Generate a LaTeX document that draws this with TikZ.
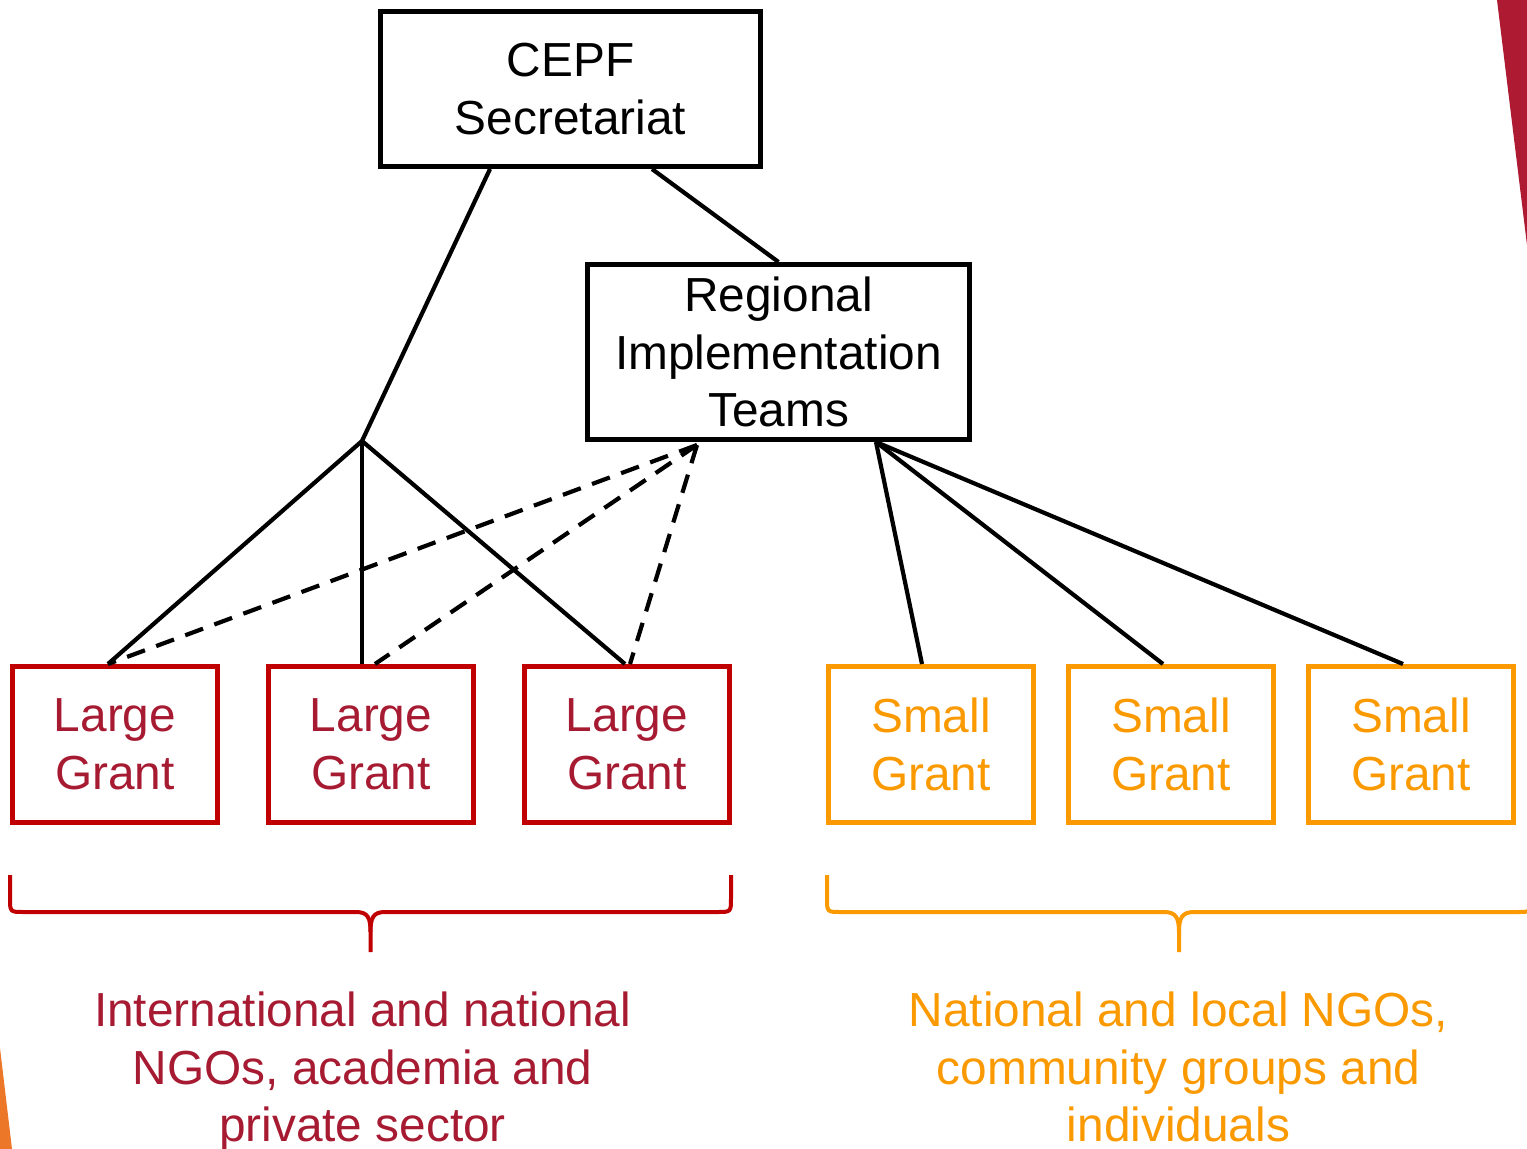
\documentclass[tikz,border=0pt]{standalone}
\usepackage{fontspec}
\setmainfont{Liberation Sans}
\usetikzlibrary{calc}
\definecolor{boxred}{RGB}{192,0,0}
\definecolor{txtred}{RGB}{167,27,50}
\definecolor{orng}{RGB}{250,153,0}
\definecolor{decored}{RGB}{173,26,50}
\definecolor{decoorange}{RGB}{236,119,40}
\begin{document}
\begin{tikzpicture}[x=1pt,y=-1pt,
  every node/.style={font=\fontsize{47.8}{57.5}\selectfont, align=center, inner sep=0pt},
  blackbox/.style={draw=black, line width=5pt},
  largebox/.style={draw=boxred, text=txtred, line width=5pt, minimum width=205pt, minimum height=156pt},
  smallbox/.style={draw=orng, text=orng, line width=5pt, minimum width=205pt, minimum height=156pt},
  link/.style={draw=black, line width=4.2pt},
  dashlink/.style={draw=black, line width=4.2pt, dash pattern=on 19pt off 12pt},
  bracestyle/.style={line width=4pt}]
\useasboundingbox (0,0) rectangle (1527,1149);
\clip (0,0) rectangle (1527,1149);
% decorative shapes
\fill[decored] (1497,0) -- (1527,0) -- (1527,245) -- cycle;
\fill[decoorange] (0,1048) -- (12,1149) -- (0,1149) -- cycle;
% main boxes
\node[blackbox, minimum width=380pt, minimum height=155pt] (cepf) at (570.5,89) {CEPF\\Secretariat};
\node[blackbox, minimum width=382pt, minimum height=175pt] (rit) at (778.5,352) {Regional\\Implementation\\Teams};
% grant boxes
\node[largebox] (l1) at (115,744.5) {Large\\Grant};
\node[largebox] (l2) at (371,744.5) {Large\\Grant};
\node[largebox] (l3) at (627,744.5) {Large\\Grant};
\node[smallbox] (s1) at (931,744.5) {Small\\Grant};
\node[smallbox] (s2) at (1171,744.5) {Small\\Grant};
\node[smallbox] (s3) at (1411,744.5) {Small\\Grant};
% junction
\coordinate (j) at (362,441);
% connectors
\draw[link] ([xshift=-80.5pt]cepf.south) -- (j);
\draw[link] ([xshift=81.5pt]cepf.south) -- (rit.north);
\draw[link] (j) -- ([xshift=-7pt]l1.north);
\draw[link] (j) -- ([xshift=-9pt]l2.north);
\draw[link] (j) -- ([xshift=-2pt]l3.north);
\draw[dashlink] ([xshift=-81.5pt,yshift=-3pt]rit.south) -- ([xshift=-7pt]l1.north);
\draw[dashlink] ([xshift=-81.5pt,yshift=-3pt]rit.south) -- ([xshift=4pt]l2.north);
\draw[dashlink] ([xshift=-81.5pt,yshift=-3pt]rit.south) -- ([xshift=3pt]l3.north);
\draw[link] ([xshift=97.5pt]rit.south) -- ([xshift=-9pt]s1.north);
\draw[link] ([xshift=97.5pt]rit.south) -- ([xshift=-8pt]s2.north);
\draw[link] ([xshift=97.5pt]rit.south) -- ([xshift=-8pt]s3.north);
% braces
\draw[bracestyle, boxred] (10,875) -- (10,898) .. controls (10,912) .. (24,912) -- (356,912)
  .. controls (368,912) and (370.5,918) .. (370.5,932) -- (370.5,952);
\draw[bracestyle, boxred] (731,875) -- (731,898) .. controls (731,912) .. (717,912) -- (385,912)
  .. controls (373,912) and (370.5,918) .. (370.5,932);
\draw[bracestyle, orng] (827,875) -- (827,898) .. controls (827,912) .. (841,912) -- (1164,912)
  .. controls (1176,912) and (1179,918) .. (1179,932) -- (1179,952);
\draw[bracestyle, orng] (1531,875) -- (1531,898) .. controls (1531,912) .. (1517,912) -- (1194,912)
  .. controls (1182,912) and (1179,918) .. (1179,932);
% labels
\node[text=txtred] (lbl1) at (362.5,1072) {International and national\\NGOs, academia and\\private sector};
\node[text=orng] (lbl2) at (1178.5,1067) {National and local NGOs,\\community groups and\\individuals};
\end{tikzpicture}
\end{document}
